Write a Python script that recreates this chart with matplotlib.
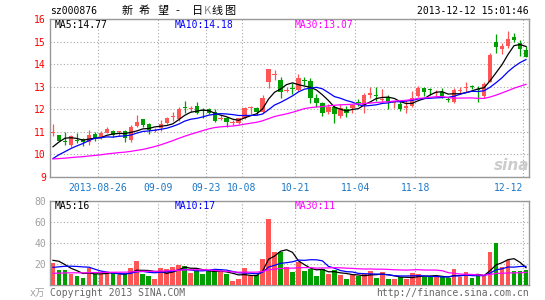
import matplotlib
matplotlib.use("Agg")
import matplotlib.pyplot as plt
import numpy as np
import pandas as pd

plt.rcParams['font.family'] = ['DejaVu Sans Mono', 'Noto Sans CJK SC']

# daily candles, 2013-08-14 .. 2013-12-12 (80 trading days)
opens = [10.93, 10.86, 10.60, 10.42, 10.64, 10.67, 10.56, 10.90, 10.75, 10.96,
         11.05, 10.98, 11.02, 10.64, 11.25, 11.55, 11.35, 11.05, 11.16, 11.41,
         11.65, 11.56, 12.06, 12.02, 12.15, 11.96, 12.00, 11.90, 11.58, 11.60,
         11.40, 11.38, 11.60, 12.04, 12.07, 11.87, 13.20, 13.50, 13.30, 12.82,
         12.92, 12.85, 13.28, 13.25, 12.52, 12.27, 11.87, 12.12, 11.72, 12.00,
         12.04, 12.30, 12.19, 12.65, 12.63, 12.42, 12.56, 12.30, 12.23, 12.04,
         12.15, 12.59, 12.93, 12.87, 12.72, 12.78, 12.43, 12.34, 12.83, 12.95,
         13.05, 12.90, 12.59, 13.22, 15.00, 14.68, 14.80, 15.20, 14.95, 14.63]
highs = [11.35, 10.88, 11.00, 10.86, 10.93, 10.72, 11.10, 10.98, 11.05, 11.20,
         11.10, 11.05, 11.08, 11.30, 11.74, 11.58, 11.38, 11.15, 11.52, 11.65,
         11.90, 12.10, 12.37, 12.15, 12.34, 12.04, 12.04, 12.00, 11.75, 11.67,
         11.52, 11.62, 12.10, 12.16, 12.12, 12.65, 13.80, 13.74, 13.42, 13.00,
         13.16, 13.55, 13.44, 13.37, 12.67, 12.34, 12.22, 12.20, 12.22, 12.15,
         12.22, 12.44, 12.70, 13.00, 13.00, 12.88, 12.64, 12.38, 12.40, 12.40,
         12.80, 13.02, 13.00, 12.95, 12.85, 12.93, 12.56, 12.93, 13.00, 13.22,
         13.08, 13.03, 13.22, 14.48, 15.34, 14.95, 15.45, 15.38, 15.05, 14.80]
lows = [10.81, 10.58, 10.42, 10.34, 10.49, 10.37, 10.42, 10.60, 10.70, 10.93,
        10.76, 10.80, 10.56, 10.56, 11.20, 11.20, 10.92, 11.00, 11.05, 11.35,
        11.48, 11.50, 11.82, 11.90, 11.78, 11.60, 11.80, 11.45, 11.52, 11.20,
        11.30, 11.35, 11.55, 11.80, 11.75, 11.85, 12.96, 13.30, 12.50, 12.78,
        12.68, 12.80, 13.08, 12.26, 12.08, 11.72, 11.80, 11.38, 11.60, 11.67,
        11.85, 12.15, 11.85, 12.50, 12.35, 12.26, 12.00, 12.04, 11.93, 11.82,
        12.10, 12.55, 12.60, 12.63, 12.60, 12.50, 12.34, 12.26, 12.66, 12.78,
        12.88, 12.34, 12.52, 13.20, 14.48, 14.45, 14.72, 15.00, 14.36, 14.30]
closes = [10.95, 10.61, 10.56, 10.81, 10.61, 10.56, 10.86, 10.75, 10.93, 11.14,
          10.84, 11.00, 10.71, 11.20, 11.45, 11.30, 11.08, 11.07, 11.35, 11.60,
          11.67, 12.00, 12.04, 12.04, 11.82, 11.94, 11.85, 11.50, 11.60, 11.45,
          11.41, 11.60, 12.04, 12.07, 11.87, 12.50, 13.78, 13.55, 12.78, 12.85,
          12.90, 13.37, 13.25, 12.49, 12.27, 11.82, 12.12, 11.78, 12.04, 11.85,
          12.19, 12.28, 12.63, 12.70, 12.58, 12.44, 12.34, 12.34, 12.00, 12.15,
          12.49, 12.93, 12.78, 12.85, 12.74, 12.59, 12.41, 12.85, 12.85, 12.97,
          13.00, 12.85, 13.10, 14.40, 14.75, 14.80, 15.10, 15.05, 14.65, 14.32]
volumes = [20.6, 14.3, 14.3, 10.5, 8.6, 7.0, 16.5, 10.5, 10.5, 10.5,
           11.1, 9.5, 10.5, 16.5, 22.9, 10.5, 8.6, 5.7, 15.9, 14.9,
           16.8, 19.0, 18.1, 11.1, 14.3, 10.5, 13.7, 14.9, 12.7, 10.5,
           4.1, 5.7, 16.5, 8.9, 9.5, 24.8, 62.9, 31.7, 31.7, 16.8,
           12.4, 22.2, 13.7, 15.2, 8.6, 14.9, 10.5, 14.3, 9.5, 5.7,
           9.5, 8.9, 10.5, 13.3, 7.0, 12.4, 5.7, 5.7, 7.3, 5.7,
           11.1, 10.2, 7.9, 7.9, 7.9, 7.3, 6.7, 14.9, 7.9, 12.4,
           6.3, 9.2, 9.2, 31.0, 40.0, 16.8, 23.8, 13.7, 13.7, 14.3]

# sessions before the window, only feed the moving averages
hist_close = [10.10, 10.05, 10.00, 9.95, 10.00, 10.00, 10.00, 10.05, 10.00, 10.00,
              10.10, 10.10, 10.15, 10.10, 10.10, 9.20, 9.10, 9.00, 8.90, 8.90,
              8.95, 9.20, 9.40, 9.45, 9.50, 9.56, 9.71, 10.71, 10.77]
hist_vol = [8, 9, 7, 8, 10, 9, 8, 7, 8, 9, 8, 9, 10, 8, 7, 8, 9, 8, 8, 7,
            9, 9, 10, 11, 11.4, 19, 30, 28, 20]

tick_pos = [8, 18, 26, 32, 41, 51, 61, 79]
tick_labels = ['2013-08-26', '09-09', '09-23', '10-08', '10-21', '11-04', '11-18', '12-12']
price_ma_text = ['MA5:14.77', 'MA10:14.18', 'MA30:13.07']
vol_ma_text = ['MA5:16', 'MA10:17', 'MA30:11']

RED = '#ff5555'
GREEN = '#009f00'
MA_COLORS = ['black', '#0000ff', '#ff00ff']
GRID = dict(color='#a8a8a8', linestyle=(0, (1, 2)), linewidth=0.8)
W, H = 545, 300


def moving_avg(hist, vals, n):
  s = pd.Series(list(hist) + list(vals))
  return s.rolling(n).mean().to_numpy()[len(hist):]


def px(x, y):
  return x / W, 1 - y / H


o = np.array(opens)
c = np.array(closes)
x = np.arange(len(c)) + 0.5
colors = np.where(c >= o, RED, GREEN)

fig = plt.figure(figsize=(W / 100, H / 100), dpi=100)
ax = fig.add_axes([50 / W, 1 - 177 / H, 479 / W, 158 / H])
axv = fig.add_axes([50 / W, 1 - 285 / H, 479 / W, 84 / H])

# price panel
ax.vlines(x, lows, highs, colors=colors, linewidth=0.9, zorder=3)
ax.bar(x, np.maximum(np.abs(c - o), 0.045), bottom=np.minimum(o, c),
       width=0.72, color=colors, linewidth=0, zorder=3)
for n, col in zip([5, 10, 30], MA_COLORS):
  ax.plot(x, moving_avg(hist_close, closes, n), color=col, linewidth=0.9, zorder=4)
ax.set_xlim(0, 80)
ax.set_ylim(9, 16)
ax.set_yticks(range(9, 17))
ax.set_xticks(tick_pos)
ax.set_xticklabels(tick_labels)
ax.xaxis.get_ticklabels()[-1].set_horizontalalignment('right')
ax.tick_params(axis='y', colors='red', length=0, labelsize=7, pad=3)
ax.tick_params(axis='x', colors='#1a78c8', length=0, labelsize=7, pad=4)
ax.grid(True, **GRID)

# volume panel
axv.bar(x, volumes, width=0.78, color=colors, linewidth=0, zorder=3)
for n, col in zip([5, 10, 30], MA_COLORS):
  axv.plot(x, moving_avg(hist_vol, volumes, n), color=col, linewidth=0.9, zorder=4)
axv.set_xlim(0, 80)
axv.set_ylim(0, 80)
axv.set_yticks([20, 40, 60, 80])
axv.set_xticks(tick_pos)
axv.set_xticklabels([])
axv.tick_params(axis='y', colors='#a0a0a0', length=0, labelsize=7, pad=3)
axv.tick_params(axis='x', length=0)
axv.grid(True, **GRID)

for a in (ax, axv):
  for sp in a.spines.values():
    sp.set_color('#999999')
    sp.set_linewidth(1.0)

# texts
for txt, xp, col in zip(price_ma_text, [55, 175, 295], MA_COLORS):
  fig.text(*px(xp, 25), txt, color=col, fontsize=7, va='center')
for txt, xp, col in zip(vol_ma_text, [55, 175, 295], MA_COLORS):
  fig.text(*px(xp, 206), txt, color=col, fontsize=7, va='center')

fig.text(*px(50, 11), 'sz000876', fontsize=7, va='center')
title_chars = ['新', '希', '望', '-', '日', 'K', '线', '图']
title_x = [122, 139, 157, 175, 192, 204, 211, 224]
for ch, xp in zip(title_chars, title_x):
  fig.text(*px(xp, 11), ch, fontsize=8, va='center',
           color='#888888' if ch == 'K' else 'black',
           family=['Noto Sans CJK SC', 'DejaVu Sans'])
fig.text(*px(529, 11), '2013-12-12 15:01:46', fontsize=7, va='center', ha='right')

fig.text(*px(30, 293), 'x万', fontsize=7, va='center', color='#a0a0a0',
         family=['DejaVu Sans Mono', 'Noto Sans CJK SC'])
fig.text(*px(50, 293), 'Copyright 2013 SINA.COM', fontsize=7, va='center', color='#666666')
fig.text(*px(529, 293), 'http://finance.sina.com.cn', fontsize=7, va='center',
         ha='right', color='#666666')
fig.text(*px(512, 165), 'sina', fontsize=11, va='center', ha='center',
         color='#cccccc', style='italic', weight='bold', family='DejaVu Sans')

fig.savefig('out.png', dpi=100)
